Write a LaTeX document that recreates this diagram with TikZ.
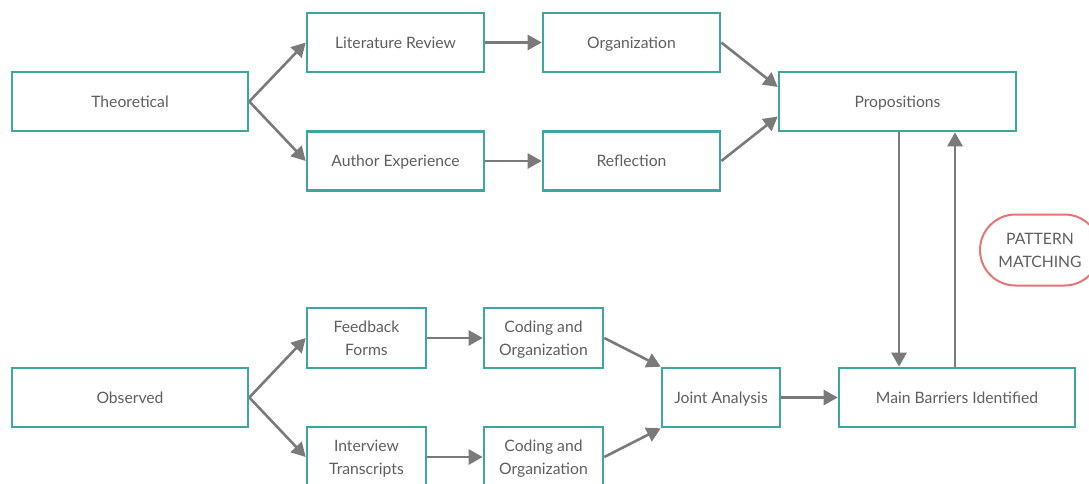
\documentclass[tikz,border=0pt]{standalone}
\usepackage{fontspec}
\setmainfont{Lato}
\usetikzlibrary{arrows.meta,calc,shapes.misc}
\definecolor{boxteal}{RGB}{62,166,160}
\definecolor{linegray}{RGB}{122,122,122}
\definecolor{txtgray}{RGB}{95,95,95}
\definecolor{pmred}{RGB}{226,118,118}
\begin{document}
\begin{tikzpicture}[x=1pt,y=-1pt,
  flowbox/.style={draw=boxteal,line width=2.6pt,fill=white,text=txtgray,
    font=\fontsize{15.7}{23}\selectfont,align=center,inner sep=0pt,
    minimum height=59pt,text depth=0pt},
  arr/.style={draw=linegray,line width=2.6pt,
    -{Triangle[length=14pt,width=15pt]}},
  pill/.style={draw=pmred,line width=2pt,rounded rectangle,fill=white,
    text=txtgray,font=\fontsize{15.7}{23}\selectfont,align=center,
    minimum width=120pt,minimum height=71pt,inner sep=0pt,text depth=0pt}]
\useasboundingbox[fill=white] (0,0) rectangle (1089,484);

% theoretical branch
\node[flowbox,minimum width=236pt] (theo) at (130,101.5) {Theoretical};
\node[flowbox,minimum width=177pt] (lit) at (395.5,42.5) {Literature Review};
\node[flowbox,minimum width=177pt] (org) at (631.5,42.5) {Organization};
\node[flowbox,minimum width=177pt] (auth) at (395.5,161) {Author Experience};
\node[flowbox,minimum width=177pt] (refl) at (631.5,161) {Reflection};
\node[flowbox,minimum width=237pt] (prop) at (897.5,101.5) {Propositions};

% observed branch
\node[flowbox,minimum width=236pt] (obs) at (130,397.5) {Observed};
\node[flowbox,minimum width=119pt,minimum height=60pt] (fb) at (366.5,338) {Feedback\\Forms};
\node[flowbox,minimum width=119pt,minimum height=60pt] (cod1) at (543.5,338) {Coding and\\Organization};
\node[flowbox,minimum width=119pt,minimum height=60pt] (int) at (366.5,457) {Interview\\Transcripts};
\node[flowbox,minimum width=119pt,minimum height=60pt] (cod2) at (543.5,457) {Coding and\\Organization};
\node[flowbox,minimum width=118pt] (ja) at (721,397.5) {Joint Analysis};
\node[flowbox,minimum width=236pt] (mb) at (957,397.5) {Main Barriers Identified};

\node[pill] (pm) at (1040,250) {PATTERN\\MATCHING};

% connectors
\draw[arr] (theo.east) -- (lit.west);
\draw[arr] (theo.east) -- (auth.west);
\draw[arr] (lit.east) -- (org.west);
\draw[arr] (auth.east) -- (refl.west);
\draw[arr] (org.east) -- ($(prop.west)+(0,-14.5)$);
\draw[arr] (refl.east) -- ($(prop.west)+(0,15)$);

\draw[arr] (obs.east) -- (fb.west);
\draw[arr] (obs.east) -- (int.west);
\draw[arr] (fb.east) -- (cod1.west);
\draw[arr] (int.east) -- (cod2.west);
\draw[arr] (cod1.east) -- (ja.north west);
\draw[arr] (cod2.east) -- (ja.south west);
\draw[arr] (ja.east) -- (mb.west);

\coordinate (dn) at ($(prop.south)+(1.5,0)$);
\coordinate (up) at ($(mb.north)+(-2,0)$);
\draw[arr] (dn) -- (dn |- mb.north);
\draw[arr] (up) -- (up |- prop.south);
\end{tikzpicture}
\end{document}
